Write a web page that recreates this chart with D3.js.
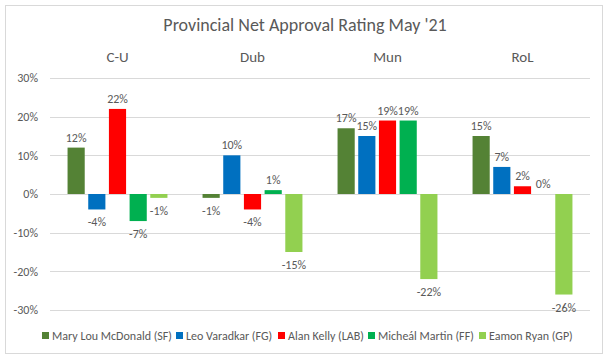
<!DOCTYPE html>
<html>
<head>
<meta charset="utf-8">
<script src="https://cdn.jsdelivr.net/npm/d3@7"></script>
<style>
  body { margin: 0; background: #fff; }
  text { font-family: Carlito, Calibri, Lato, sans-serif; fill: #595959; }
</style>
</head>
<body>
<div id="chart"></div>
<script>
// data
var regions = ["C-U", "Dub", "Mun", "RoL"];
var leaders = ["Mary Lou McDonald (SF)", "Leo Varadkar (FG)", "Alan Kelly (LAB)", "Micheál Martin (FF)", "Eamon Ryan (GP)"];
var colours = ["#548235", "#0070C0", "#FF0000", "#00B050", "#92D050"];
var sf  = [12, -1, 17, 15];
var fg  = [-4, 10, 15, 7];
var lab = [22, -4, 19, 2];
var ff  = [-7, 1, 19, 0];
var gp  = [-1, -15, -22, -26];
var yTicks = [30, 20, 10, 0, -10, -20, -30];

var series = [sf, fg, lab, ff, gp];

var width = 609, height = 362;
var margin = {top: 78, right: 19, bottom: 52, left: 50};
var plotW = width - margin.left - margin.right;
var plotH = height - margin.top - margin.bottom;

var svg = d3.select("#chart")
    .append("svg")
        .attr("width", width)
        .attr("height", height);

// outer frame
svg.append("rect")
    .attr("x", 5.5).attr("y", 5.5)
    .attr("width", 597).attr("height", 348)
    .attr("fill", "#fff")
    .attr("stroke", "#d9d9d9");

svg.append("text")
    .attr("x", 305).attr("y", 31)
    .attr("text-anchor", "middle")
    .style("font-size", "18px")
    .text("Provincial Net Approval Rating May '21");

var g = svg.append("g")
    .attr("transform", "translate(" + margin.left + "," + margin.top + ")");

var x = d3.scaleBand().domain(regions).range([0, plotW]);
var xInner = d3.scaleBand().domain(d3.range(leaders.length))
    .range([x.bandwidth() * 0.13, x.bandwidth() * 0.87])
    .paddingInner(0.17);
var y = d3.scaleLinear().domain([-30, 30]).range([plotH, 0]);

// gridlines
g.selectAll(".grid")
    .data(yTicks)
    .join("line")
        .attr("x1", 0).attr("x2", plotW)
        .attr("y1", d => Math.round(y(d)) + 0.5)
        .attr("y2", d => Math.round(y(d)) + 0.5)
        .attr("stroke", "#d9d9d9");

// y axis labels
var yAxis = d3.axisLeft(y).tickValues(yTicks).tickSize(0).tickPadding(12)
    .tickFormat(d => d + "%");
g.append("g").call(yAxis)
    .call(a => a.select(".domain").remove())
    .selectAll("text").style("font-size", "12px").attr("fill", "#595959");

// region labels along the top
svg.selectAll(".region")
    .data(regions)
    .join("text")
        .attr("x", d => margin.left + x(d) + x.bandwidth() / 2)
        .attr("y", 62)
        .attr("text-anchor", "middle")
        .style("font-size", "15px")
        .text(d => d);

// bars
var rows = [];
series.forEach(function(s, i) {
    s.forEach(function(v, j) { rows.push({s: i, region: regions[j], v: v}); });
});

var cell = g.selectAll(".bar")
    .data(rows)
    .join("g")
        .attr("transform", d => "translate(" + (x(d.region) + xInner(d.s)) + ",0)");

cell.append("rect")
    .attr("y", d => y(Math.max(0, d.v)))
    .attr("width", xInner.bandwidth())
    .attr("height", d => Math.abs(y(d.v) - y(0)))
    .attr("fill", d => colours[d.s]);

cell.append("text")
    .attr("x", xInner.bandwidth() / 2)
    .attr("y", d => d.v < 0 ? y(d.v) + 17 : y(d.v) - 6)
    .attr("text-anchor", "middle")
    .style("font-size", "12px")
    .text(d => d.v + "%");

// legend
var legend = svg.append("g").attr("transform", "translate(0,340)");
var offsets = [42, 176, 278, 368, 479];
var item = legend.selectAll("g")
    .data(leaders)
    .join("g")
        .attr("transform", (d, i) => "translate(" + offsets[i] + ",0)");
item.append("rect")
    .attr("x", 0).attr("y", -8)
    .attr("width", 7).attr("height", 7)
    .attr("fill", (d, i) => colours[i]);
item.append("text")
    .attr("x", 10).attr("y", 0)
    .style("font-size", "12px")
    .text(d => d);
</script>
</body>
</html>
